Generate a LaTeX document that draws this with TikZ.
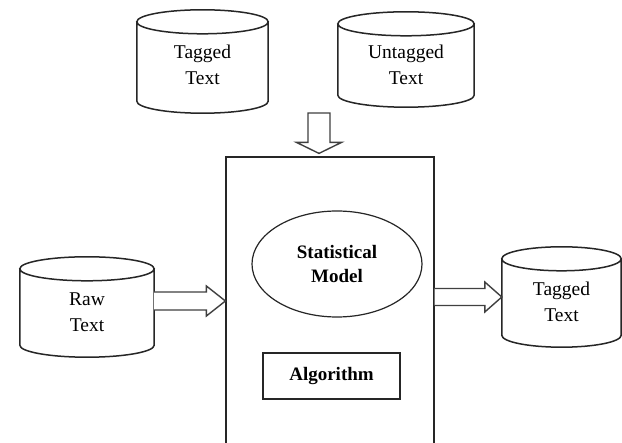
\documentclass[tikz,border=0pt]{standalone}
\usepackage{fontspec}
\setmainfont{Liberation Serif}
\usetikzlibrary{calc,shapes.geometric}
\tikzset{
  cylbox/.style={inner sep=0pt, align=center, font=\fontsize{19.5}{26}\selectfont, text=black},
  cylline/.style={draw=black!85, line width=1.5pt, fill=white},
  boxline/.style={draw=black!85, line width=1.2pt},
  blk/.style={draw=black!75, line width=1.4pt, fill=white, line join=miter},
  boldtxt/.style={font=\bfseries\fontsize{19}{26}\selectfont, text=black},
}
\newcommand{\drawcyl}[1]{%
  \draw[cylline] let \p1=(#1.north west), \p2=(#1.south east), \n1={(\x2-\x1)/2} in
    (\x1,\y1-12pt) -- (\x1,\y2+12pt) arc[start angle=180,end angle=360,x radius=\n1,y radius=12pt] -- (\x2,\y1-12pt)
    (\x1+\n1,\y1-12pt) ellipse[x radius=\n1,y radius=12pt];
}
\begin{document}
\begin{tikzpicture}[x=1pt,y=-1pt]
\useasboundingbox (0,0) rectangle (622,443);
\clip (0,0) rectangle (622,443);
\fill[white] (0,0) rectangle (622,443);

% cylinders (invisible boxes carrying the text)
\path (202.5,61.5) node[cylbox, minimum width=131pt, minimum height=103pt] (tagin) {};
\path (406,59.5) node[cylbox, minimum width=136pt, minimum height=95pt] (untag) {};
\path (87,307) node[cylbox, minimum width=134pt, minimum height=100pt] (raw) {};
\path (561.5,297) node[cylbox, minimum width=119pt, minimum height=100pt] (tagout) {};
\drawcyl{tagin}
\drawcyl{untag}
\drawcyl{raw}
\drawcyl{tagout}
\node[cylbox] at ([yshift=-3pt]tagin.center) {Tagged\\Text};
\node[cylbox] at ([yshift=-5pt]untag.center) {Untagged\\Text};
\node[cylbox] at ([yshift=-5pt]raw.center) {Raw\\Text};
\node[cylbox] at ([yshift=-5pt]tagout.center) {Tagged\\Text};

% processing box
\node[boxline, minimum width=208pt, minimum height=330pt, inner sep=0pt] (proc) at (330,322) {};
\node[boxline, ellipse, minimum width=170pt, minimum height=106pt, inner sep=0pt, boldtxt, align=center] (model) at (337,264) {Statistical\\[-2pt]Model};
\node[boxline, minimum width=137pt, minimum height=46pt, inner sep=0pt, boldtxt] (algo) at (331.5,376) {Algorithm};

% down arrow
\coordinate (dtop) at (319,113);
\coordinate (dtip) at ([yshift=3pt]proc.north -| dtop);
\draw[blk] let \p1=(dtop), \p2=(dtip) in
  (\x1-11pt,\y1) -- (\x1-11pt,\y2+11pt) -- (\x1-22.5pt,\y2+11pt) -- (\x2,\y2)
  -- (\x1+22.5pt,\y2+11pt) -- (\x1+11pt,\y2+11pt) -- (\x1+11pt,\y1) -- cycle;

% raw -> proc
\coordinate (r1) at ([yshift=6pt]raw.east);
\coordinate (r2) at (proc.west |- r1);
\draw[blk] let \p1=(r1), \p2=(r2) in
  (\x1,\y1+9pt) -- (\x2-19pt,\y1+9pt) -- (\x2-19pt,\y1+15pt) -- (\x2,\y1)
  -- (\x2-19pt,\y1-15pt) -- (\x2-19pt,\y1-9pt) -- (\x1,\y1-9pt);

% proc -> tagged out
\coordinate (o2) at (tagout.west);
\coordinate (o1) at (proc.east |- o2);
\draw[blk] let \p1=(o1), \p2=(o2) in
  (\x1,\y1+8.5pt) -- (\x2-17pt,\y1+8.5pt) -- (\x2-17pt,\y1+15pt) -- (\x2,\y1)
  -- (\x2-17pt,\y1-15pt) -- (\x2-17pt,\y1-8.5pt) -- (\x1,\y1-8.5pt);
\end{tikzpicture}
\end{document}
